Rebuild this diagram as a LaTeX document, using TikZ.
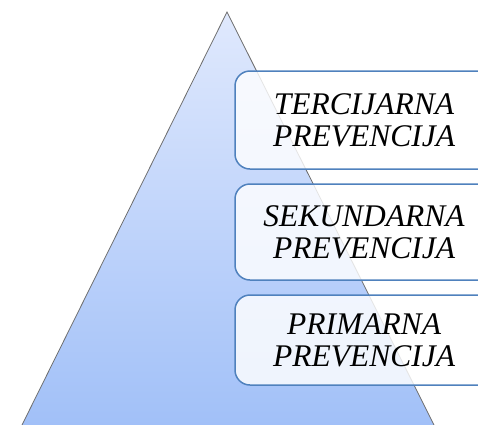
\documentclass[tikz,border=0pt]{standalone}
\usepackage{fontspec}
\setmainfont{Liberation Serif}
\definecolor{tritop}{RGB}{224,233,253}
\definecolor{tribot}{RGB}{161,192,248}
\definecolor{triline}{RGB}{110,110,110}
\definecolor{boxline}{RGB}{79,129,189}
\begin{document}
\begin{tikzpicture}[x=1pt,y=-1pt,
  levelbox/.style={draw=boxline, line width=1.5pt, rounded corners=15pt,
    fill=white, fill opacity=0.82, text opacity=1, align=center,
    minimum width=258pt, inner sep=0pt,
    font=\fontsize{31.5}{32}\selectfont\itshape}]
\useasboundingbox (0,0) rectangle (478,424);
\clip (0,0) rectangle (478,424);
\coordinate (apex) at (227,12);
\coordinate (bl) at (21,427);
\coordinate (br) at (435,427);
\shade[top color=tritop, bottom color=tribot, draw=triline, line width=0.8pt]
  (apex) -- (bl) -- (br) -- cycle;
\node[levelbox, minimum height=98pt] (ter) at (364,120) {TERCIJARNA\\PREVENCIJA};
\node[levelbox, minimum height=96pt] (sek) at (364,232) {SEKUNDARNA\\PREVENCIJA};
\node[levelbox, minimum height=90pt] (pri) at (364,340) {PRIMARNA\\PREVENCIJA};
\end{tikzpicture}
\end{document}
